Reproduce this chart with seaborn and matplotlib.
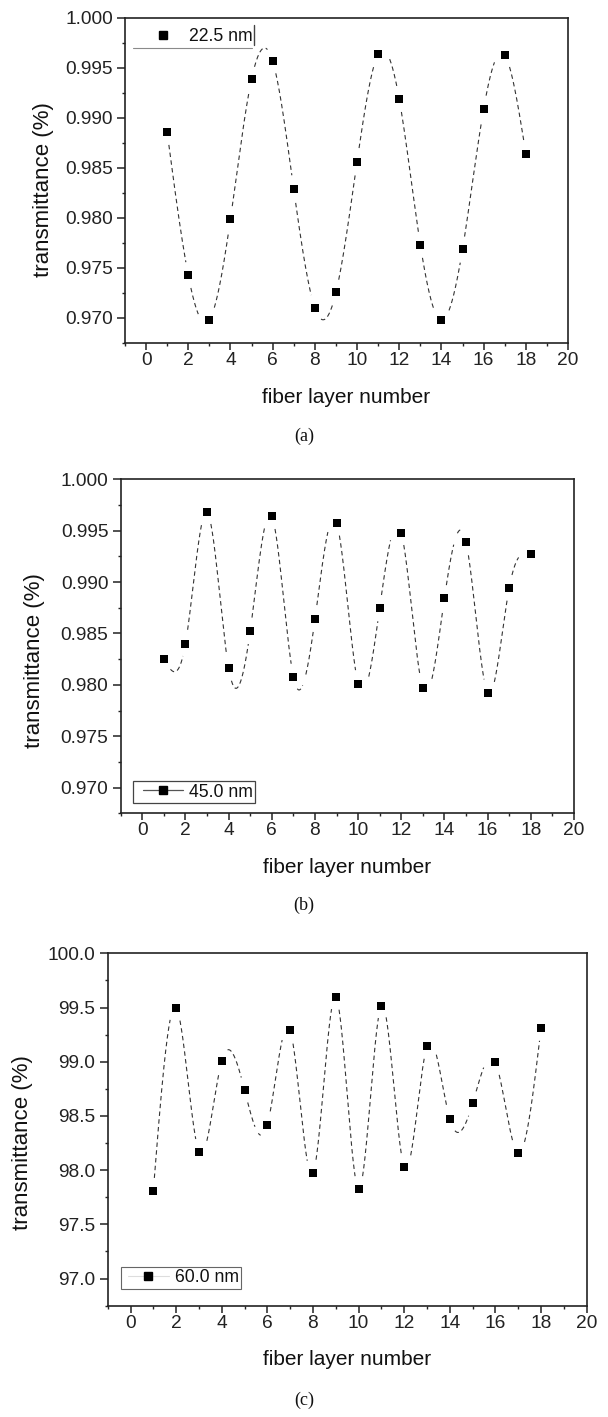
import numpy as np
import matplotlib
matplotlib.use("Agg")
import matplotlib.pyplot as plt
from matplotlib.lines import Line2D
from matplotlib.legend_handler import HandlerLine2D
from matplotlib.ticker import MultipleLocator, FormatStrFormatter
import seaborn as sns

# ---- data -------------------------------------------------------------
layers = np.arange(1, 19)

trans_22_5 = [0.98855, 0.97425, 0.96980, 0.97990, 0.99385, 0.99565,
              0.98285, 0.97100, 0.97255, 0.98558, 0.99635, 0.99185,
              0.97732, 0.96975, 0.97685, 0.99085, 0.99625, 0.98642]

trans_45_0 = [0.98255, 0.98400, 0.99682, 0.98164, 0.98524, 0.99640,
              0.98079, 0.98638, 0.99578, 0.98011, 0.98751, 0.99480,
              0.97966, 0.98845, 0.99387, 0.97924, 0.98945, 0.99273]

trans_60_0 = [97.807, 99.500, 98.170, 99.006, 98.739, 98.420,
              99.290, 97.970, 99.597, 97.826, 99.517, 98.030,
              99.145, 98.471, 98.616, 98.994, 98.155, 99.314]

series_labels = ["22.5 nm", "45.0 nm", "60.0 nm"]
panel_tags = ["(a)", "(b)", "(c)"]
x_ticks = list(range(0, 21, 2))

# ---- style ------------------------------------------------------------
sns.set_theme(style="ticks")
plt.rcParams["font.family"] = ["Liberation Sans", "DejaVu Sans"]
plt.rcParams["axes.edgecolor"] = "#222222"
plt.rcParams["text.color"] = "#111111"
plt.rcParams["xtick.color"] = "#222222"
plt.rcParams["ytick.color"] = "#222222"
plt.rcParams["axes.labelcolor"] = "#111111"

W, H, DPI = 608, 1417, 100
fig = plt.figure(figsize=(W / DPI, H / DPI), dpi=DPI)
fig.patch.set_facecolor("white")


def px_axes(left, right, top, bottom):
    return fig.add_axes([left / W, 1 - bottom / H, (right - left) / W, (bottom - top) / H])


def natural_spline(x, y, xs):
    """Natural cubic spline through (x, y), evaluated at xs."""
    x = np.asarray(x, float)
    y = np.asarray(y, float)
    n = len(x)
    h = np.diff(x)
    A = np.zeros((n, n))
    b = np.zeros(n)
    A[0, 0] = A[-1, -1] = 1.0
    for i in range(1, n - 1):
        A[i, i - 1] = h[i - 1]
        A[i, i] = 2 * (h[i - 1] + h[i])
        A[i, i + 1] = h[i]
        b[i] = 6 * ((y[i + 1] - y[i]) / h[i] - (y[i] - y[i - 1]) / h[i - 1])
    M = np.linalg.solve(A, b)
    idx = np.clip(np.searchsorted(x, xs) - 1, 0, n - 2)
    x0, x1 = x[idx], x[idx + 1]
    hh = x1 - x0
    t0, t1 = x1 - xs, xs - x0
    return (M[idx] * t0 ** 3 / (6 * hh) + M[idx + 1] * t1 ** 3 / (6 * hh)
            + (y[idx] / hh - M[idx] * hh / 6) * t0
            + (y[idx + 1] / hh - M[idx + 1] * hh / 6) * t1)


def draw_panel(ax, values, ylim, ystep, yfmt, gap_px=12.5):
    ax.set_xlim(-1, 20)
    ax.set_ylim(*ylim)

    # smooth dashed connecting curve, broken around each marker
    xs = np.linspace(layers[0], layers[-1], 1500)
    ys = natural_spline(layers, values, xs)
    curve = ax.transData.transform(np.column_stack([xs, ys]))
    marks = ax.transData.transform(np.column_stack([layers, values]))
    d = np.min(np.hypot(curve[:, None, 0] - marks[None, :, 0],
                        curve[:, None, 1] - marks[None, :, 1]), axis=1)
    ys_gap = np.where(d < gap_px, np.nan, ys)
    ax.plot(xs, ys_gap, color="#333333", lw=0.8, ls=(0, (4, 3)), zorder=2)

    sns.scatterplot(x=layers, y=values, marker="s", s=30, color="black",
                    linewidth=0, ax=ax, legend=False, zorder=3)

    ax.xaxis.set_major_locator(MultipleLocator(2))
    ax.xaxis.set_minor_locator(MultipleLocator(1))
    ax.set_xticks(x_ticks)
    ax.yaxis.set_major_locator(MultipleLocator(ystep))
    ax.yaxis.set_minor_locator(MultipleLocator(ystep / 2))
    ax.yaxis.set_major_formatter(FormatStrFormatter(yfmt))

    ax.tick_params(axis="x", which="major", direction="out", length=5.0, width=1.1,
                   labelsize=13.8, pad=1.5)
    ax.tick_params(axis="x", which="minor", direction="out", length=2.5, width=1.0)
    ax.tick_params(axis="y", which="major", direction="out", length=5.8, width=1.1,
                   labelsize=13.8, pad=3.0)
    ax.tick_params(axis="y", which="minor", direction="out", length=2.5, width=1.0)
    for sp in ax.spines.values():
        sp.set_visible(True)
        sp.set_linewidth(1.2)
        sp.set_color("#222222")

    ax.set_xlabel("fiber layer number", fontsize=15)
    ax.set_ylabel("transmittance (%)", fontsize=16)


# ---- panel (a) --------------------------------------------------------
ax_a = px_axes(125, 568, 17.5, 343)
draw_panel(ax_a, trans_22_5, (0.9675, 1.000), 0.005, "%.3f")
ax_a.xaxis.set_label_coords(0.5, -0.138)
ax_a.yaxis.set_label_coords(-0.160, 0.47)

# ---- panel (b) --------------------------------------------------------
ax_b = px_axes(120.7, 574, 479.3, 813.3)
draw_panel(ax_b, trans_45_0, (0.9675, 1.000), 0.005, "%.3f")
ax_b.xaxis.set_label_coords(0.5, -0.135)
ax_b.yaxis.set_label_coords(-0.166, 0.458)

# ---- panel (c) --------------------------------------------------------
ax_c = px_axes(107.7, 586.7, 953.3, 1305.7)
draw_panel(ax_c, trans_60_0, (96.75, 100.0), 0.5, "%.1f")
ax_c.xaxis.set_label_coords(0.5, -0.126)
ax_c.yaxis.set_label_coords(-0.155, 0.463)

# ---- legends ----------------------------------------------------------
LEG_FS = 12.7
marker_only = Line2D([], [], marker="s", ls="none", color="black", ms=5.5)
line_marker = Line2D([], [], marker="s", ls="-", lw=0.9, color="#555555",
                     markerfacecolor="black", markeredgecolor="black", ms=5.5)
faint_marker = Line2D([], [], marker="s", ls="-", lw=0.8, color="#dddddd",
                      markerfacecolor="black", markeredgecolor="black", ms=5.5)

leg_a = ax_a.legend([marker_only], [series_labels[0]], loc="lower left",
                    bbox_to_anchor=(0.018, 0.906), borderaxespad=0, borderpad=0.15,
                    handlelength=2.68, handletextpad=0.34, frameon=False,
                    fontsize=LEG_FS,
                    handler_map={marker_only: HandlerLine2D(xpad=0.44)})
# the visible parts of the (a) legend frame
fig.add_artist(Line2D([133 / W, 252 / W], [1 - 48 / H, 1 - 48 / H],
                      color="#8a8a8a", lw=0.8))
fig.add_artist(Line2D([254 / W, 254 / W], [1 - 25 / H, 1 - 45 / H],
                      color="#444444", lw=1.0))

leg_b = ax_b.legend([line_marker], [series_labels[1]], loc="lower left",
                    bbox_to_anchor=(0.0265, 0.030), borderaxespad=0, borderpad=0.15,
                    handlelength=2.68, handletextpad=0.34, fancybox=False,
                    fontsize=LEG_FS, framealpha=1,
                    handler_map={line_marker: HandlerLine2D(xpad=0.44)})
leg_b.get_frame().set_edgecolor("#444444")
leg_b.get_frame().set_linewidth(0.9)

leg_c = ax_c.legend([faint_marker], [series_labels[2]], loc="lower left",
                    bbox_to_anchor=(0.027, 0.047), borderaxespad=0, borderpad=0.15,
                    handlelength=2.57, handletextpad=0.34, fancybox=False,
                    fontsize=LEG_FS, framealpha=1,
                    handler_map={faint_marker: HandlerLine2D(xpad=0.25)})
leg_c.get_frame().set_edgecolor("#666666")
leg_c.get_frame().set_linewidth(0.8)

# ---- captions ---------------------------------------------------------
for tag, ypx in zip(panel_tags, [436, 905, 1400]):
    fig.text(304 / W, 1 - ypx / H, tag, ha="center", va="center",
             fontsize=13, family=["Liberation Serif", "DejaVu Serif"])

fig.savefig("out.png", dpi=DPI, facecolor="white")
